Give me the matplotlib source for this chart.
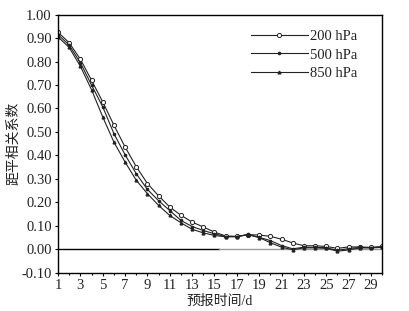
import matplotlib
matplotlib.use('Agg')
import matplotlib.pyplot as plt
from matplotlib.ticker import MultipleLocator, FormatStrFormatter

plt.rcParams['font.family'] = ['Liberation Serif', 'Noto Sans CJK SC']
plt.rcParams['axes.unicode_minus'] = True

days = list(range(1, 31))
acc_200 = [0.925, 0.88, 0.81, 0.72, 0.628, 0.529, 0.436, 0.352, 0.28, 0.228,
           0.18, 0.145, 0.116, 0.095, 0.073, 0.057, 0.055, 0.062, 0.061, 0.055,
           0.043, 0.027, 0.015, 0.015, 0.012, 0.004, 0.010, 0.010, 0.008, 0.012]
acc_500 = [0.915, 0.87, 0.795, 0.70, 0.607, 0.493, 0.403, 0.322, 0.255, 0.207,
           0.165, 0.123, 0.097, 0.080, 0.066, 0.054, 0.054, 0.063, 0.051, 0.037,
           0.016, 0.002, 0.009, 0.008, 0.007, -0.005, 0.003, 0.008, 0.007, 0.010]
acc_850 = [0.905, 0.86, 0.78, 0.68, 0.564, 0.457, 0.372, 0.294, 0.237, 0.187,
           0.144, 0.113, 0.085, 0.070, 0.059, 0.053, 0.054, 0.062, 0.050, 0.028,
           0.009, -0.002, 0.006, 0.006, 0.004, -0.008, -0.003, 0.006, 0.006, 0.008]
labels = ['200 hPa', '500 hPa', '850 hPa']

fig = plt.figure(figsize=(4.10, 3.11), dpi=100)
ax = fig.add_axes([0.1415, 0.123, 0.7905, 0.830])

# zero line, black on the left half and grey on the right as in the scan
ax.plot([1, 15.4], [0, 0], color='black', lw=1.0, zorder=1)
ax.plot([15.4, 30], [0, 0], color='#999999', lw=1.0, zorder=1)

ax.plot(days, acc_200, color='#222222', lw=0.8, marker='o', ms=3.0,
        mfc='white', mec='#222222', mew=0.7, label=labels[0])
ax.plot(days, acc_500, color='#222222', lw=0.8, marker='o', ms=1.6,
        mfc='#222222', mec='#222222', label=labels[1])
ax.plot(days, acc_850, color='#222222', lw=0.8, marker='^', ms=2.0,
        mfc='#222222', mec='#222222', label=labels[2])

ax.set_xlim(1, 30)
ax.set_ylim(-0.1, 1.0)
ax.xaxis.set_minor_locator(MultipleLocator(1))
ax.set_xticks(range(1, 30, 2))
ax.yaxis.set_major_locator(MultipleLocator(0.1))
ax.yaxis.set_major_formatter(FormatStrFormatter('%.2f'))
ax.tick_params(axis='both', which='major', direction='out', length=2.5,
               width=0.8, labelsize=10.5, pad=2, labelcolor='#222222')
ax.tick_params(axis='x', which='minor', direction='out', length=1.5, width=0.8)
for s in ax.spines.values():
    s.set_linewidth(1.0)

ax.set_xlabel('预报时间/d', fontsize=10, labelpad=2, color='#222222')
ax.set_ylabel('距平相关系数', fontsize=10, labelpad=1, color='#222222')

leg = ax.legend(loc='upper left', bbox_to_anchor=(0.595, 0.942), frameon=False,
                fontsize=10.5, handlelength=3.9, handletextpad=0.15,
                labelspacing=0.38, borderpad=0, borderaxespad=0)
for t in leg.get_texts():
    t.set_color('#222222')

fig.savefig('out.png', dpi=100)
